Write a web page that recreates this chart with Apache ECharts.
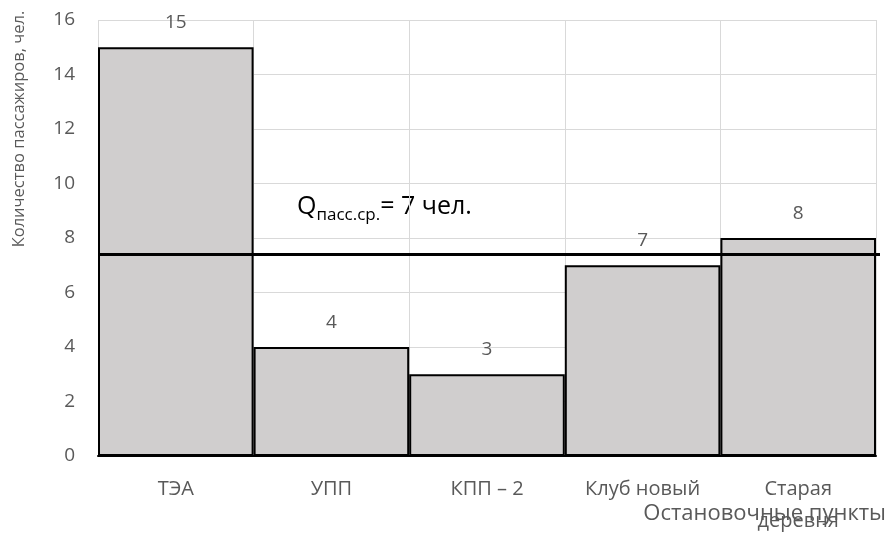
<!DOCTYPE html>
<html>
<head>
<meta charset="utf-8">
<script src="https://cdn.jsdelivr.net/npm/echarts@6/dist/echarts.min.js"></script>
<style>
  html, body { margin: 0; padding: 0; background: #fff; }
  #chart { width: 896px; height: 534px; }
</style>
</head>
<body>
<div id="chart"></div>
<script>
// Stops along the route and the number of passengers counted at each
const stops = ['ТЭА', 'УПП', 'КПП – 2', 'Клуб новый', 'Старая деревня'];
const passengers = [15, 4, 3, 7, 8];
const averageLevel = 7.4;   // mean of the counts, drawn as a horizontal rule
const yTicks = [0, 2, 4, 6, 8, 10, 12, 14, 16];

const textColor = '#595959';
const gridColor = '#d9d9d9';
const fontFamily = '"Open Sans", "Noto Sans", sans-serif';
const tickFont = 20;

// Wrap a category label onto two lines when it is wider than its slot
const measureCtx = document.createElement('canvas').getContext('2d');
measureCtx.font = tickFont + 'px "Open Sans"';
function wrapLabel(text) {
  return measureCtx.measureText(text).width > 140 ? text.replace(' ', '\n') : text;
}

const chart = echarts.init(document.getElementById('chart'));

chart.setOption({
  animation: false,
  backgroundColor: '#ffffff',
  textStyle: { fontFamily: fontFamily },
  grid: { left: 98, right: 20, top: 20, bottom: 78, containLabel: false, outerBoundsMode: 'none' },
  xAxis: {
    type: 'category',
    data: stops,
    boundaryGap: true,
    axisLine: { show: true, lineStyle: { color: '#000', width: 2 } },
    axisTick: { show: false },
    axisLabel: {
      interval: 0, hideOverlap: false,
      color: textColor, fontSize: tickFont, fontFamily: fontFamily,
      margin: 17, lineHeight: 32,
      formatter: wrapLabel
    },
    splitLine: { show: true, lineStyle: { color: gridColor, width: 1 } }
  },
  yAxis: {
    type: 'value',
    min: yTicks[0],
    max: yTicks[yTicks.length - 1],
    interval: 2,
    axisLine: { show: false },
    axisTick: { show: false },
    axisLabel: { color: textColor, fontSize: 19, fontFamily: fontFamily, margin: 23 },
    splitLine: { show: true, lineStyle: { color: gridColor, width: 1 } }
  },
  series: [{
    type: 'bar',
    data: passengers,
    barWidth: '100%',
    barCategoryGap: 0,
    itemStyle: { color: '#d0cece', borderColor: '#000', borderWidth: 2 },
    label: {
      show: true, position: 'top', distance: 15,
      color: textColor, fontSize: 19, fontFamily: fontFamily
    },
    markLine: {
      silent: true,
      symbol: ['none', 'none'],
      label: { show: false },
      lineStyle: { color: '#000', width: 3, type: 'solid' },
      data: [[
        { coord: [0, averageLevel], x: 100 },
        { coord: [stops.length - 1, averageLevel], x: 880 }
      ]]
    }
  }],
  graphic: [
    // value axis title
    {
      type: 'text',
      x: 11, y: 129,
      rotation: Math.PI / 2,
      style: {
        text: 'Количество пассажиров, чел.',
        fill: textColor, fontSize: 16.5, fontFamily: fontFamily,
        align: 'center', verticalAlign: 'top'
      }
    },
    // category axis title
    {
      type: 'text',
      x: 886, y: 514,
      style: {
        text: 'Остановочные пункты',
        fill: textColor, fontSize: 22, fontFamily: fontFamily,
        align: 'right', verticalAlign: 'middle'
      }
    },
    // average value caption on a white backing
    {
      type: 'group',
      children: [
        {
          type: 'rect',
          shape: { x: 276, y: 177, width: 276, height: 51 },
          style: { fill: '#ffffff' }
        },
        {
          type: 'text',
          x: 297, y: 207,
          style: {
            text: '{q|Q}{s|пасс.ср.}{m|= 7 чел.}',
            verticalAlign: 'middle',
            fontFamily: fontFamily,
            rich: {
              q: { fontSize: 25, fill: '#000', lineHeight: 34, verticalAlign: 'middle', fontFamily: fontFamily },
              s: { fontSize: 17, fill: '#000', lineHeight: 17, verticalAlign: 'bottom', fontFamily: fontFamily },
              m: { fontSize: 25, fill: '#000', lineHeight: 34, verticalAlign: 'middle', fontFamily: fontFamily }
            }
          }
        }
      ]
    }
  ]
});
</script>
</body>
</html>
